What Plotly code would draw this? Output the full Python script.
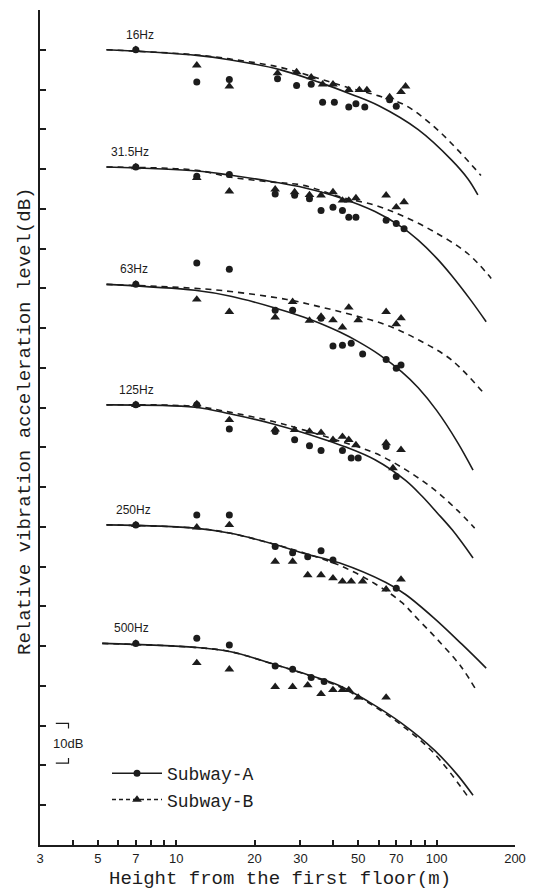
import numpy as np
import plotly.graph_objects as go

INK = "#1c1c1c"

BANDS = ["16Hz", "31.5Hz", "63Hz", "125Hz", "250Hz", "500Hz"]
# display offset of each band (dB on the unlabeled axis)
BAND_OFFSET = [200, 170.5, 141, 110.7, 80.5, 50.7]
LABEL_X = [6.3, 5.5, 6.0, 5.9, 5.75, 5.65]

# ---- Subway-A measured points (height m, relative level dB) ----
A_PTS_X = [
    [7, 12, 16, 24.5, 29, 33, 36.5, 40.5, 46, 49, 53, 66, 70],
    [7, 12, 16, 24, 28.5, 32.5, 36, 40, 43.5, 46, 49, 64, 70, 75],
    [7, 12, 16, 24, 28, 36, 40, 43.5, 47, 52, 64, 70, 73],
    [7, 12, 16, 24, 28.5, 32.5, 36, 43.5, 47, 50, 64, 70],
    [7, 12, 16, 24, 28, 32, 36, 40, 70],
    [7, 12, 16, 24, 28, 33, 37],
]
A_PTS_Y = [
    [0, -8.1, -7.5, -7.3, -9.0, -8.7, -13.2, -13.2, -14.4, -13.6, -14.4, -12.6, -14.2],
    [0, -2.3, -1.9, -6.8, -7.1, -8.0, -10.9, -10.1, -10.9, -12.6, -12.6, -13.4, -14.2, -15.5],
    [0, 5.4, 3.8, -6.5, -6.5, -8.5, -15.5, -15.3, -14.8, -17.5, -18.9, -21.1, -20.3],
    [0, 0, -6.1, -6.7, -8.8, -10.3, -11.5, -11.5, -13.4, -13.4, -10.5, -18.0],
    [0, 2.5, 2.5, -5.4, -7.0, -8.0, -6.5, -8.8, -15.9],
    [0, 1.3, -0.4, -5.7, -6.5, -8.6, -9.6],
]
# ---- Subway-B measured points ----
B_PTS_X = [
    [7, 12, 16, 24.5, 29, 33, 36.5, 40, 46, 50.5, 54, 66, 73, 76],
    [7, 12, 16, 24, 28.5, 32.5, 36, 40, 43.5, 46, 49, 64, 70, 75],
    [7, 12, 16, 24, 28, 32.5, 36, 40, 43.5, 46, 50, 64, 70, 73],
    [7, 12, 16, 24, 28.5, 32.5, 36, 40, 43.5, 46, 49, 64, 68, 73],
    [7, 12, 16, 24, 28, 32, 36, 40, 43.5, 47, 52, 64, 73],
    [7, 12, 16, 24, 28, 32, 36, 40, 43.5, 46, 50, 64],
]
B_PTS_Y = [
    [0, -3.9, -9.2, -5.9, -5.6, -6.9, -8.7, -8.7, -10.1, -10.1, -10.1, -11.9, -10.6, -9.2],
    [0, -2.7, -6.1, -5.6, -6.3, -7.0, -7.1, -6.3, -8.4, -8.4, -7.8, -7.1, -10.1, -8.8],
    [0, -3.8, -6.9, -8.3, -4.4, -9.1, -8.1, -9.0, -10.8, -5.8, -9.0, -6.9, -10.0, -8.5],
    [0, 0.2, -3.8, -6.2, -6.3, -6.7, -7.0, -8.8, -8.0, -8.8, -10.1, -9.6, -15.9, -11.3],
    [0, -0.6, 0, -9.2, -9.2, -12.6, -12.6, -13.4, -14.2, -14.2, -14.2, -16.2, -13.7],
    [0, -4.9, -6.5, -10.9, -10.9, -10.5, -12.7, -11.7, -11.7, -11.7, -13.6, -13.6],
]
# ---- fitted curves ----
A_CURVE_X = [
    [5.4, 12, 16, 25, 35.5, 47.5, 60, 85, 114, 132, 144],
    [5.4, 12, 16, 24, 31, 42, 58, 73.5, 85, 100, 114, 135, 155],
    [5.4, 11.8, 16.2, 23.6, 30.8, 36, 42.5, 50, 60, 73.5, 85, 100, 120, 138],
    [5.4, 11.8, 16.2, 23.6, 30.8, 44.8, 58, 76, 88, 100, 115, 138],
    [5.4, 11.8, 16.2, 23.6, 30.8, 42.5, 63.9, 76, 98, 125, 155],
    [5.2, 11.8, 16.2, 23.6, 30.8, 42, 55, 73.5, 98.3, 120, 138],
]
A_CURVE_Y = [
    [0, -1.4, -2.5, -5.0, -8.2, -11.3, -14.1, -20.1, -27.7, -32.5, -36.5],
    [0, -1.0, -2.0, -3.8, -5.2, -7.6, -11.2, -15.1, -18.4, -22.9, -27.2, -33.4, -38.9],
    [0, -1.5, -3.0, -5.8, -8.2, -9.9, -12.0, -14.4, -17.6, -22.0, -26.0, -31.7, -39.6, -46.7],
    [0, -0.6, -2.3, -4.8, -7.0, -10.6, -13.8, -19.0, -23.0, -27.0, -31.5, -38.5],
    [0, -0.8, -2.1, -4.8, -7.1, -9.6, -14.5, -17.5, -23.5, -30.0, -36.0],
    [0, -1.0, -2.1, -5.2, -7.5, -10.5, -14.7, -20.1, -26.9, -33.0, -38.2],
]
B_CURVE_X = [
    [5.4, 12, 16, 25, 35.5, 47.5, 60, 76, 98, 121, 148],
    [5.4, 12, 16, 23.6, 30.8, 42.5, 58, 73.5, 98, 132, 162],
    [5.4, 11.8, 16.2, 26.6, 35.4, 47.5, 64, 85.4, 114, 150],
    [5.4, 11.8, 16.2, 23.6, 30.8, 44.8, 58.3, 76, 98.3, 120, 140],
    [5.4, 11.8, 16.2, 23.6, 30.8, 42.5, 58, 73.5, 85, 100, 124, 142],
    [5.2, 11.8, 16.2, 23.6, 30.8, 42, 55, 73.5, 98.3, 133],
]
B_CURVE_Y = [
    [0, -1.3, -2.3, -4.4, -7.3, -9.8, -11.6, -14.0, -19.4, -25.3, -31.6],
    [0, -0.8, -2.5, -3.8, -4.6, -7.5, -9.6, -12.2, -16.3, -21.8, -28.0],
    [0, -1.0, -1.8, -3.8, -5.6, -7.7, -10.2, -14.0, -19.0, -27.0],
    [0, -0.4, -1.9, -4.2, -6.3, -9.6, -12.2, -16.3, -21.4, -26.5, -31.0],
    [0, -0.8, -2.1, -4.8, -7.0, -10.2, -14.8, -19.5, -23.8, -28.6, -35.6, -41.6],
    [0, -1.0, -2.1, -5.2, -7.6, -10.8, -15.0, -20.6, -27.8, -38.9],
]

X_TICKS = [3, 4, 5, 6, 7, 8, 9, 10, 20, 30, 40, 50, 60, 70, 80, 90, 100, 200]
X_TICK_TEXT = ["3", "", "5", "", "7", "", "", "10", "20", "30", "", "50", "", "70", "", "", "100", "200"]
Y_TICKS = list(range(0, 211, 10))

SCALE_X = [3.45, 3.86]
SCALE_TOP = 30.6
SCALE_DB = 10
SCALE_STUB = 1.3

W, H = 540, 890
ML, MR, MT, MB = 40, 25, 10, 45
PW, PH = W - ML - MR, H - MT - MB

fig = go.Figure()

for i, band in enumerate(BANDS):
    off = BAND_OFFSET[i]
    fig.add_trace(go.Scatter(
        x=A_CURVE_X[i], y=[v + off for v in A_CURVE_Y[i]], mode="lines",
        line=dict(color=INK, width=1.6, shape="spline", smoothing=1.0),
        showlegend=False, hoverinfo="skip"))
    fig.add_trace(go.Scatter(
        x=B_CURVE_X[i], y=[v + off for v in B_CURVE_Y[i]], mode="lines",
        line=dict(color=INK, width=1.6, dash="6px,5px", shape="spline", smoothing=1.0),
        showlegend=False, hoverinfo="skip"))
    fig.add_trace(go.Scatter(
        x=A_PTS_X[i], y=[v + off for v in A_PTS_Y[i]], mode="markers",
        marker=dict(symbol="circle", size=7, color=INK),
        showlegend=False))
    fig.add_trace(go.Scatter(
        x=B_PTS_X[i], y=[v + off for v in B_PTS_Y[i]], mode="markers",
        marker=dict(symbol="triangle-up", size=8.5, color=INK),
        showlegend=False))
    fig.add_annotation(
        x=np.log10(LABEL_X[i]), y=off + 3.8, text=band, showarrow=False,
        xanchor="left", yanchor="middle",
        font=dict(family="Liberation Sans", size=12, color=INK))

# legend entries
fig.add_trace(go.Scatter(
    x=[None], y=[None], mode="lines+markers", name="Subway-A",
    line=dict(color=INK, width=1.5),
    marker=dict(symbol="circle", size=7, color=INK)))
fig.add_trace(go.Scatter(
    x=[None], y=[None], mode="lines+markers", name="Subway-B",
    line=dict(color=INK, width=1.5, dash="4px,3px"),
    marker=dict(symbol="triangle-up", size=8.5, color=INK)))

# 10 dB scale bar
fig.add_trace(go.Scatter(
    x=[SCALE_X[0], SCALE_X[1], SCALE_X[1], None, SCALE_X[1], SCALE_X[1], SCALE_X[0]],
    y=[SCALE_TOP, SCALE_TOP, SCALE_TOP - SCALE_STUB, None,
       SCALE_TOP - SCALE_DB + SCALE_STUB, SCALE_TOP - SCALE_DB, SCALE_TOP - SCALE_DB],
    mode="lines", line=dict(color=INK, width=1.2), showlegend=False, hoverinfo="skip"))
fig.add_annotation(
    x=np.log10(3.83), y=SCALE_TOP - SCALE_DB / 2, text="10dB", showarrow=False,
    xanchor="center", yanchor="middle",
    font=dict(family="Liberation Sans", size=13, color=INK))

# axis titles
fig.add_annotation(
    xref="paper", yref="paper", x=(25 - ML) / PW, y=(H - MB - 422) / PH,
    text="Relative vibration acceleration level(dB)", textangle=-90, showarrow=False,
    xanchor="center", yanchor="middle",
    font=dict(family="Liberation Mono", size=19, color=INK))
fig.add_annotation(
    xref="paper", yref="paper", x=(280 - ML) / PW, y=-(879 - (H - MB)) / PH,
    text="Height from the first floor(m)", showarrow=False,
    xanchor="center", yanchor="middle",
    font=dict(family="Liberation Mono", size=19, color=INK))

fig.update_xaxes(
    type="log", range=[np.log10(3), np.log10(200)],
    tickvals=X_TICKS, ticktext=X_TICK_TEXT, ticks="inside", ticklen=5, tickwidth=1.5,
    tickcolor=INK, showline=True, linewidth=2, linecolor=INK, showgrid=False,
    zeroline=False, tickfont=dict(family="Liberation Sans", size=13, color=INK))
fig.update_yaxes(
    range=[0, 210], tickvals=Y_TICKS, showticklabels=False, ticks="inside",
    ticklen=6, tickwidth=1.5, tickcolor=INK, showline=True, linewidth=2,
    linecolor=INK, showgrid=False, zeroline=False)

fig.update_layout(
    width=W, height=H, margin=dict(l=ML, r=MR, t=MT, b=MB),
    paper_bgcolor="white", plot_bgcolor="white",
    legend=dict(x=(107 - ML) / PW, y=(H - MB - 755) / PH, xanchor="left", yanchor="top",
                itemwidth=50, bgcolor="rgba(0,0,0,0)",
                font=dict(family="Liberation Mono", size=18, color=INK),
                tracegroupgap=0),
)

fig.write_html("out.html")
